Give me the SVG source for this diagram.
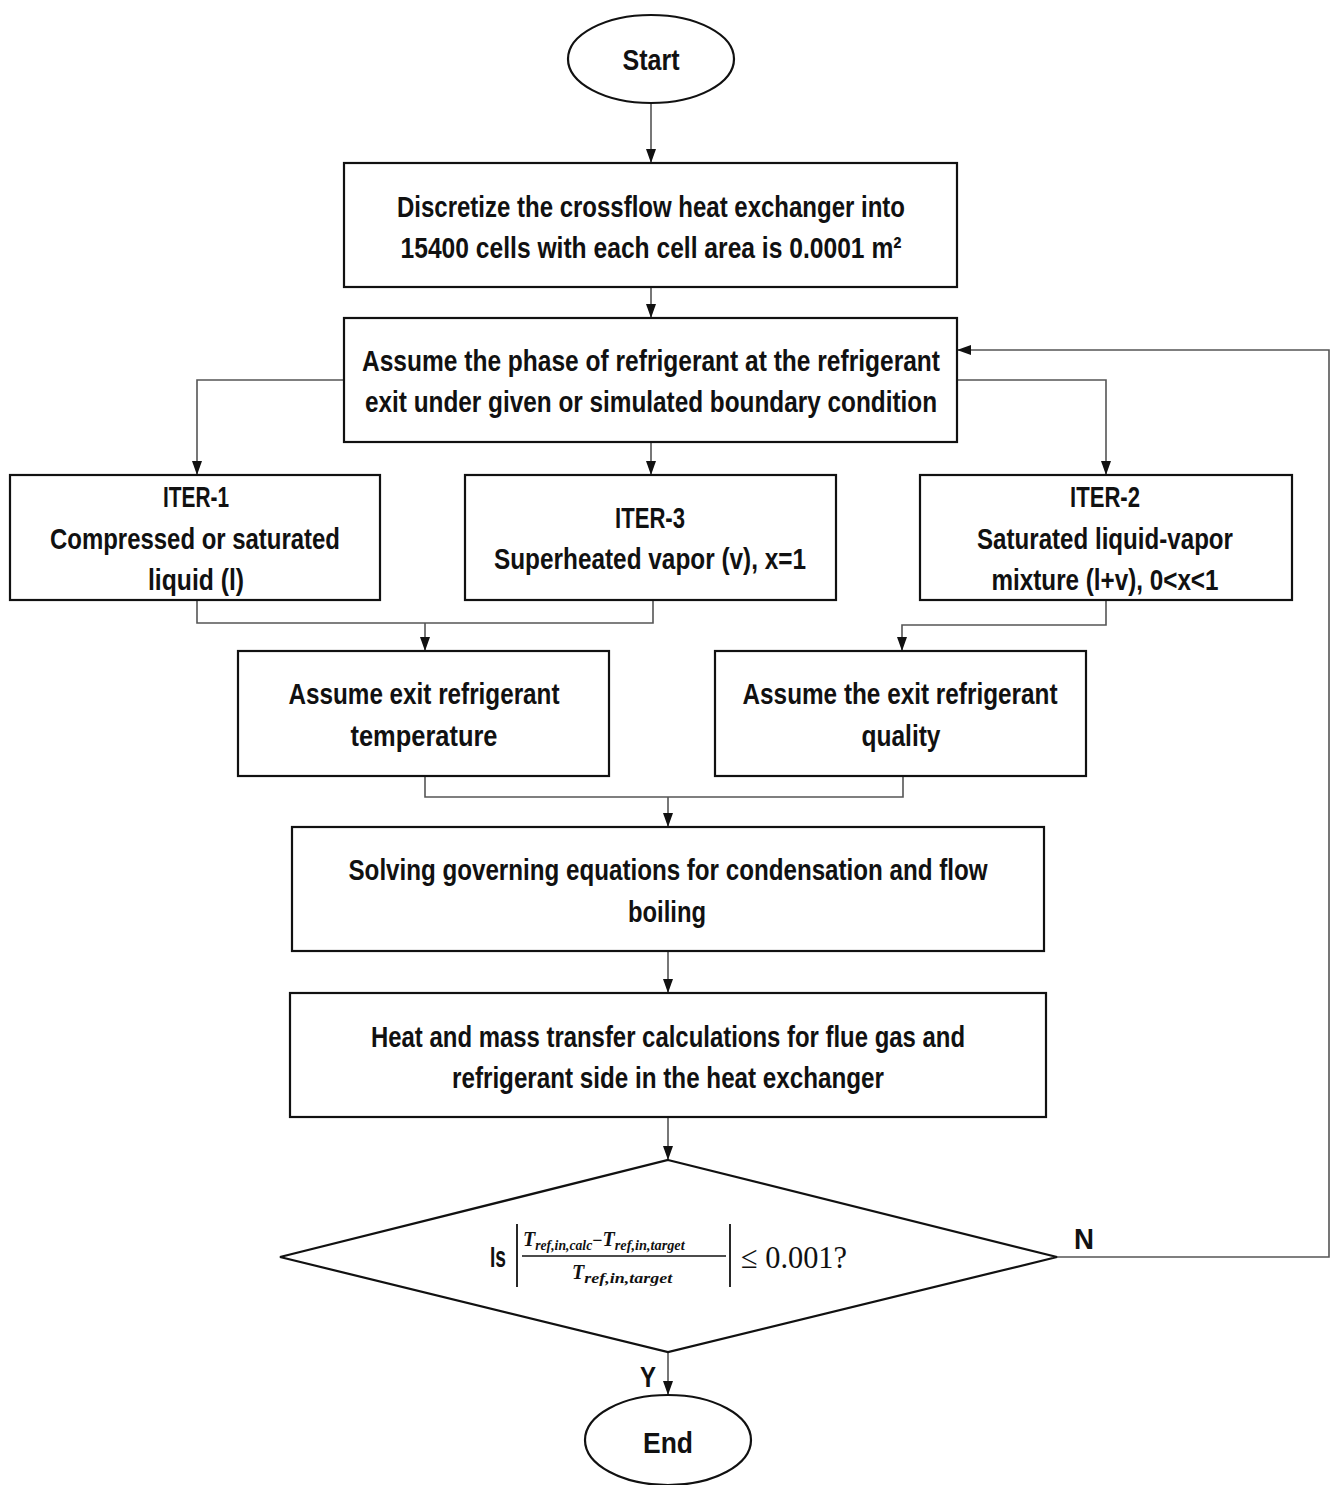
<svg xmlns="http://www.w3.org/2000/svg" width="1331" height="1485" viewBox="0 0 1331 1485">
<style>
.box{fill:#fff;stroke:#111;stroke-width:2.2}
.t{font-family:"Liberation Sans",Arial,sans-serif;font-weight:bold;font-size:30px;fill:#111;text-anchor:middle}
.c{fill:none;stroke:#555;stroke-width:1.6}
.m{font-family:"Liberation Serif","Times New Roman",serif;font-style:italic;font-weight:bold;fill:#111}
</style>
<defs>
<marker id="ah" markerUnits="userSpaceOnUse" markerWidth="14" markerHeight="12" refX="14" refY="5" orient="auto">
<path d="M0,0 L14,5 L0,10 z" fill="#111"/>
</marker>
</defs>
<rect width="1331" height="1485" fill="#fff"/>
<g id="connectors">
<path class="c" d="M651,103 V163" marker-end="url(#ah)"/>
<path class="c" d="M651,287 V318" marker-end="url(#ah)"/>
<path class="c" d="M344,380 H197 V475" marker-end="url(#ah)"/>
<path class="c" d="M651,442 V475" marker-end="url(#ah)"/>
<path class="c" d="M957,380 H1106 V475" marker-end="url(#ah)"/>
<path class="c" d="M197,600 V623 H653 V600"/>
<path class="c" d="M425,623 V651" marker-end="url(#ah)"/>
<path class="c" d="M1106,600 V625 H902 V651" marker-end="url(#ah)"/>
<path class="c" d="M425,776 V797 H903 V776"/>
<path class="c" d="M668,797 V827" marker-end="url(#ah)"/>
<path class="c" d="M668,951 V993" marker-end="url(#ah)"/>
<path class="c" d="M668,1117 V1160" marker-end="url(#ah)"/>
<path class="c" d="M668,1352 V1395" marker-end="url(#ah)"/>
<path class="c" d="M1057,1257 H1329 V350 H957" marker-end="url(#ah)"/>
<text class="t" x="648" y="1387" font-size="31" textLength="16" lengthAdjust="spacingAndGlyphs">Y</text>
<text class="t" x="1084" y="1249" font-size="31" textLength="20" lengthAdjust="spacingAndGlyphs">N</text>
</g>
<g id="start">
<ellipse class="box" cx="651" cy="59" rx="83" ry="44"/>
<text class="t" x="651" y="70" textLength="57" lengthAdjust="spacingAndGlyphs">Start</text>
</g>
<g id="discretize">
<rect class="box" x="344" y="163" width="613" height="124"/>
<text class="t" x="651" y="217" textLength="508" lengthAdjust="spacingAndGlyphs">Discretize the crossflow heat exchanger into</text>
<text class="t" x="651" y="258" textLength="501" lengthAdjust="spacingAndGlyphs">15400 cells with each cell area is 0.0001 m²</text>
</g>
<g id="assume-phase">
<rect class="box" x="344" y="318" width="613" height="124"/>
<text class="t" x="651" y="371" textLength="578" lengthAdjust="spacingAndGlyphs">Assume the phase of refrigerant at the refrigerant</text>
<text class="t" x="651" y="412" textLength="572" lengthAdjust="spacingAndGlyphs">exit under given or simulated boundary condition</text>
</g>
<g id="iter1">
<rect class="box" x="10" y="475" width="370" height="125"/>
<text class="t" x="196" y="507" textLength="66" lengthAdjust="spacingAndGlyphs">ITER-1</text>
<text class="t" x="195" y="549" textLength="290" lengthAdjust="spacingAndGlyphs">Compressed or saturated</text>
<text class="t" x="196" y="590" textLength="96" lengthAdjust="spacingAndGlyphs">liquid (l)</text>
</g>
<g id="iter3">
<rect class="box" x="465" y="475" width="371" height="125"/>
<text class="t" x="650" y="528" textLength="70" lengthAdjust="spacingAndGlyphs">ITER-3</text>
<text class="t" x="650" y="569" textLength="312" lengthAdjust="spacingAndGlyphs">Superheated vapor (v), x=1</text>
</g>
<g id="iter2">
<rect class="box" x="920" y="475" width="372" height="125"/>
<text class="t" x="1105" y="507" textLength="70" lengthAdjust="spacingAndGlyphs">ITER-2</text>
<text class="t" x="1105" y="549" textLength="256" lengthAdjust="spacingAndGlyphs">Saturated liquid-vapor</text>
<text class="t" x="1105" y="590" textLength="227" lengthAdjust="spacingAndGlyphs">mixture (l+v), 0&lt;x&lt;1</text>
</g>
<g id="assume-temp">
<rect class="box" x="238" y="651" width="371" height="125"/>
<text class="t" x="424" y="704" textLength="271" lengthAdjust="spacingAndGlyphs">Assume exit refrigerant</text>
<text class="t" x="424" y="746" textLength="147" lengthAdjust="spacingAndGlyphs">temperature</text>
</g>
<g id="assume-quality">
<rect class="box" x="715" y="651" width="371" height="125"/>
<text class="t" x="900" y="704" textLength="315" lengthAdjust="spacingAndGlyphs">Assume the exit refrigerant</text>
<text class="t" x="901" y="746" textLength="79" lengthAdjust="spacingAndGlyphs">quality</text>
</g>
<g id="solving">
<rect class="box" x="292" y="827" width="752" height="124"/>
<text class="t" x="668" y="880" textLength="639" lengthAdjust="spacingAndGlyphs">Solving governing equations for condensation and flow</text>
<text class="t" x="667" y="922" textLength="78" lengthAdjust="spacingAndGlyphs">boiling</text>
</g>
<g id="heat-mass">
<rect class="box" x="290" y="993" width="756" height="124"/>
<text class="t" x="668" y="1047" textLength="594" lengthAdjust="spacingAndGlyphs">Heat and mass transfer calculations for flue gas and</text>
<text class="t" x="668" y="1088" textLength="432" lengthAdjust="spacingAndGlyphs">refrigerant side in the heat exchanger</text>
</g>
<g id="decision">
<polygon class="box" points="668,1160 1057,1257 668,1352 280,1257"/>
<text class="t" x="498" y="1267" font-size="27" textLength="16" lengthAdjust="spacingAndGlyphs">Is</text>
<line x1="517" y1="1224" x2="517" y2="1287" stroke="#111" stroke-width="1.8"/>
<line x1="730" y1="1224" x2="730" y2="1287" stroke="#111" stroke-width="1.8"/>
<line x1="522" y1="1256" x2="726" y2="1256" stroke="#111" stroke-width="1.4"/>
<text class="m" x="523" y="1246" font-size="20"><tspan>T</tspan><tspan font-size="14" dy="4" textLength="57" lengthAdjust="spacingAndGlyphs">ref,in,calc</tspan><tspan font-style="normal" font-size="18" dy="-4">−</tspan><tspan>T</tspan><tspan font-size="14" dy="4" textLength="70" lengthAdjust="spacingAndGlyphs">ref,in,target</tspan></text>
<text class="m" x="572" y="1279" font-size="20"><tspan>T</tspan><tspan font-size="14" dy="4" textLength="88" lengthAdjust="spacingAndGlyphs">ref,in,target</tspan></text>
<text x="741" y="1268" font-family="Liberation Serif, serif" font-size="32" fill="#111" textLength="106" lengthAdjust="spacingAndGlyphs">≤ 0.001?</text>
</g>
<g id="end">
<ellipse class="box" cx="668" cy="1440" rx="83" ry="45"/>
<text class="t" x="668" y="1453" font-size="33" textLength="50" lengthAdjust="spacingAndGlyphs">End</text>
</g>
</svg>
